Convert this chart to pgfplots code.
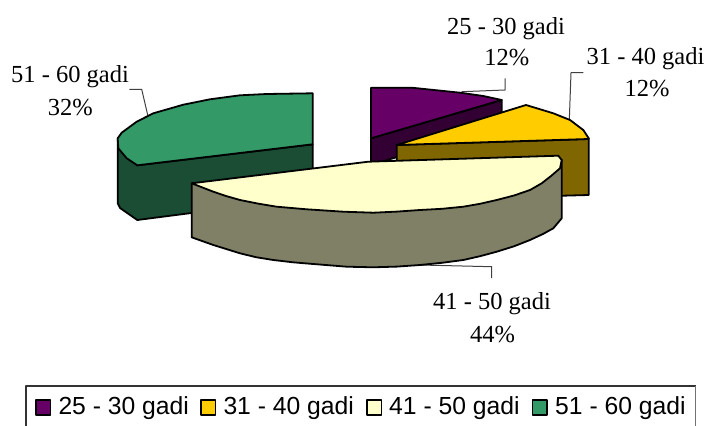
\documentclass[border=0pt]{standalone}
\usepackage{pgfplots}
\pgfplotsset{compat=1.18}
\usepackage{fontspec}
\setmainfont{Liberation Serif}
\newfontfamily\arialf{Liberation Sans}
\definecolor{cpurple}{HTML}{660066}
\definecolor{cgold}{HTML}{FFCC00}
\definecolor{ccream}{HTML}{FFFFCC}
\definecolor{cgreen}{HTML}{339966}
\definecolor{dpurple}{HTML}{330033}
\definecolor{dgold}{HTML}{806600}
\definecolor{dcream}{HTML}{808066}
\definecolor{dgreen}{HTML}{1A4D33}
\newcommand{\lab}[3]{\node[font=\fontsize{24.5}{24.5}\selectfont,anchor=base,align=center,inner sep=0pt] at (axis cs:#1,#2) {#3};}
\newcommand{\leg}[2]{\node[font=\arialf\fontsize{24.7}{24.7}\selectfont,anchor=base west,inner sep=0pt] at (axis cs:#1,414.5) {#2};}
\begin{document}
\begin{tikzpicture}
\useasboundingbox (0,0) rectangle (708pt,425pt);
\begin{axis}[at={(0,0)},anchor=south west,scale only axis,width=708pt,height=425pt,
  xmin=0,xmax=708,ymin=0,ymax=425,y dir=reverse,hide axis,clip=true,
  every axis plot/.append style={line join=round}]
% leader lines
\addplot[black!75,line width=1pt] coordinates {(147.7,115)(141.7,89.3)(129.3,89.3)};
\addplot[black!75,line width=1pt] coordinates {(461.7,91.7)(505,90)(505,78.3)};
\addplot[black!75,line width=1pt] coordinates {(569.3,120)(571,72.7)(583.3,72.7)};
\addplot[black!75,line width=1pt] coordinates {(420,265)(491.7,266.7)(491.7,278)};
% green
\addplot[fill=dgreen,draw=black,line width=1.8pt] coordinates {(117.7,138.3)(117.7,203.3)(120,208)(137.3,220)(312.7,197.3)(312.7,144.3)(137.3,165.3)} --cycle;
\addplot[fill=cgreen,draw=black,line width=1.8pt] coordinates {(312.7,93.3)(266.7,94)(240,95.3)(210,99.3)(183.3,104.7)(153.3,113.3)(136.7,121.7)(121.7,132.7)(117.7,138.3)(118.3,148.3)(126.7,158.3)(137.3,165.3)(312.7,144.3)} --cycle;
% purple
\addplot[fill=dpurple,draw=black,line width=1.8pt] coordinates {(371,138.3)(501.7,100)(501.7,111.7)(501.7,125)(371,165)} --cycle;
\addplot[fill=cpurple,draw=black,line width=1.8pt] coordinates {(371,87.7)(411.7,87.7)(460,92.7)(483.3,96)(501.7,100)(371,138.3)} --cycle;
% gold
\addplot[fill=dgold,draw=black,line width=1.8pt] coordinates {(396.7,145)(588.7,139)(588.7,195)(563,195.7)(396.7,200)} --cycle;
\addplot[fill=cgold,draw=black,line width=1.8pt] coordinates {(396.7,145)(526,105)(553.3,113.3)(570,120)(583.3,130)(588.7,138.3)(588.7,139)} --cycle;
% cream
\addplot[fill=dcream,draw=black,line width=1.8pt] coordinates {(191.7,183.3)(191.7,237.3)(213.3,245)(240,253.3)(256,257.2)(273.3,260)(293,262.3)(313.3,264)(346.7,266.7)(373.3,267.3)(397,266.6)(420,265)(442,262.8)(463.3,260)(480,256.2)(496.7,251.7)(514,246.3)(530,240)(543,234)(553.3,228.3)(561.7,218.3)(561.7,160)} --cycle;
\addplot[fill=ccream,draw=black,line width=1.8pt] coordinates {(191.7,183.3)(368.3,161.7)(558.3,155.7)(561.7,160)(560,168.3)(551,176)(541.7,183.3)(530,190)(514,195.5)(496.7,200)(480,203.8)(463.3,206.7)(442,208.8)(420,210)(397,211.6)(373.3,212.7)(343.3,211.7)(306.7,209.3)(276.7,206.7)(258,203.6)(240,200)(226,196)(213.3,191.7)} --cycle;
% legend frame
\addplot[black!80,line width=1.2pt] coordinates {(26,426)(26,386)(695.7,386)};
\addplot[black!55,line width=1.2pt] coordinates {(695.7,386)(695.7,426)};
% legend keys
\addplot[fill=cpurple,draw=black,line width=1.2pt] coordinates {(36,400)(50.5,400)(50.5,415)(36,415)} --cycle;
\addplot[fill=cgold,draw=black,line width=1.2pt] coordinates {(201,400)(215.5,400)(215.5,415)(201,415)} --cycle;
\addplot[fill=ccream,draw=black,line width=1.2pt] coordinates {(367,400)(381.5,400)(381.5,415)(367,415)} --cycle;
\addplot[fill=cgreen,draw=black,line width=1.2pt] coordinates {(532.5,400)(547,400)(547,415)(532.5,415)} --cycle;
\leg{58.3}{25 - 30 gadi}
\leg{223.3}{31 - 40 gadi}
\leg{389}{41 - 50 gadi}
\leg{555}{51 - 60 gadi}
% labels
\lab{506}{34.3}{25 - 30 gadi}
\lab{506.7}{66}{12\%}
\lab{645.5}{64.3}{31 - 40 gadi}
\lab{647}{96.7}{12\%}
\lab{70}{82.3}{51 - 60 gadi}
\lab{70.3}{115}{32\%}
\lab{492}{309.3}{41 - 50 gadi}
\lab{492.5}{342.7}{44\%}
\end{axis}
\end{tikzpicture}
\end{document}
